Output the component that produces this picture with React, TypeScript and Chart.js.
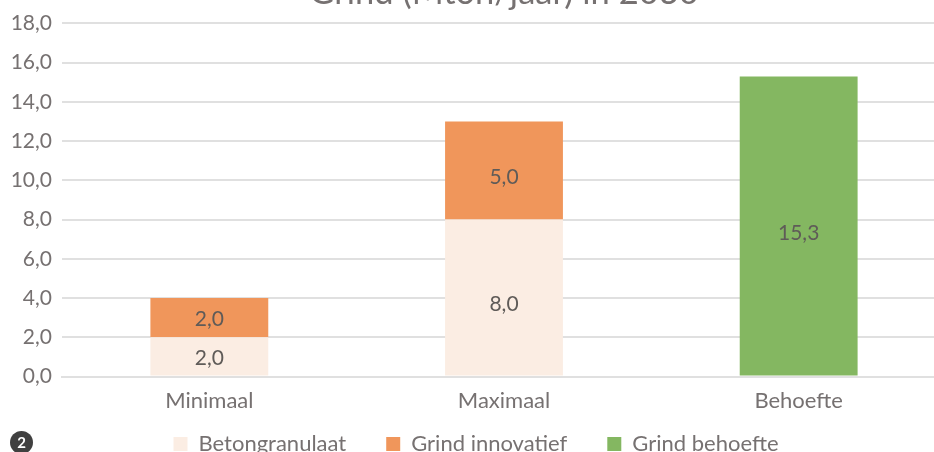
import React, { useEffect, useRef } from "react";
import { Chart, registerables } from "chart.js";

Chart.register(...registerables);

const categories = ["Minimaal", "Maximaal", "Behoefte"];
const betongranulaat = [2.0, 8.0, null];
const grindInnovatief = [2.0, 5.0, null];
const grindBehoefte = [null, null, 15.3];
const titleText = "Grind (Mton/jaar) in 2030";
const FONT = "Lato, Carlito, 'Open Sans', sans-serif";
const TEXT = "#767171";
const comma = (v: number) => v.toFixed(1).replace(".", ",");

const dataLabels = {
  id: "dataLabels",
  afterLayout(chart: any) {
    const l = chart.legend;
    l.top -= 32;
    l.bottom -= 32;
    l.left += 3;
    l.right += 3;
  },
  afterDatasetsDraw(chart: any) {
    const { ctx } = chart;
    ctx.save();
    ctx.font = `21px ${FONT}`;
    ctx.fillStyle = "#5f5b58";
    ctx.textAlign = "center";
    ctx.textBaseline = "middle";
    chart.data.datasets.forEach((ds: any, i: number) => {
      chart.getDatasetMeta(i).data.forEach((el: any, j: number) => {
        const v = ds.data[j];
        if (v == null) return;
        const h = el.base - el.y;
        ctx.fillText(comma(v), el.x, (el.y + el.base) / 2 + (h > 60 ? 7 : 2));
      });
    });
    ctx.restore();
  },
};

export default function App() {
  const ref = useRef<HTMLCanvasElement>(null);
  useEffect(() => {
    document.body.style.margin = "0";
    const chart = new Chart(ref.current!, {
      type: "bar",
      data: {
        labels: categories,
        datasets: [
          { label: "Betongranulaat", data: betongranulaat, backgroundColor: "#FBEDE3" },
          { label: "Grind innovatief", data: grindInnovatief, backgroundColor: "#F0965B" },
          { label: "Grind behoefte", data: grindBehoefte, backgroundColor: "#84B761" },
        ],
      },
      options: {
        responsive: false,
        animation: false,
        plugins: {
          tooltip: { enabled: false },
          title: {
            display: true,
            fullSize: false,
            text: titleText,
            color: TEXT,
            font: { family: FONT, size: 34.5, weight: "normal" },
            padding: { top: 0, bottom: 10 },
          },
          legend: {
            position: "bottom",
            labels: {
              color: TEXT,
              boxWidth: 14,
              boxHeight: 14,
              padding: 40,
              font: { family: FONT, size: 22 },
            },
          },
        },
        scales: {
          x: {
            stacked: true,
            grid: { display: false, drawTicks: false },
            border: { color: "#e0e0e0", width: 2 },
            ticks: { color: TEXT, font: { family: FONT, size: 22 }, padding: 11 },
          } as any,
          y: {
            stacked: true,
            min: 0,
            max: 18,
            afterFit: (s: any) => { s.width = 62; },
            grid: { color: "#e0e0e0", lineWidth: 2, drawTicks: false },
            border: { display: false },
            ticks: {
              stepSize: 2,
              color: TEXT,
              font: { family: FONT, size: 21 },
              padding: 10,
              callback: (v: any) => comma(Number(v)),
            },
          },
        },
        datasets: { bar: { categoryPercentage: 0.4, barPercentage: 1 } },
      } as any,
      plugins: [dataLabels],
    });
    return () => chart.destroy();
  }, []);
  return (
    <div style={{ position: "absolute", left: 0, top: 0, width: 934, height: 452, overflow: "hidden", background: "#fff" }}>
      <canvas ref={ref} width={946} height={525} style={{ position: "absolute", left: 0, top: -28, display: "block" }} />
      <div style={{ position: "absolute", left: 10, top: 431, width: 23, height: 23, borderRadius: "50%", background: "#404040", color: "#fff", font: `bold 15px ${FONT}`, textAlign: "center", lineHeight: "23px" }}>2</div>
    </div>
  );
}
